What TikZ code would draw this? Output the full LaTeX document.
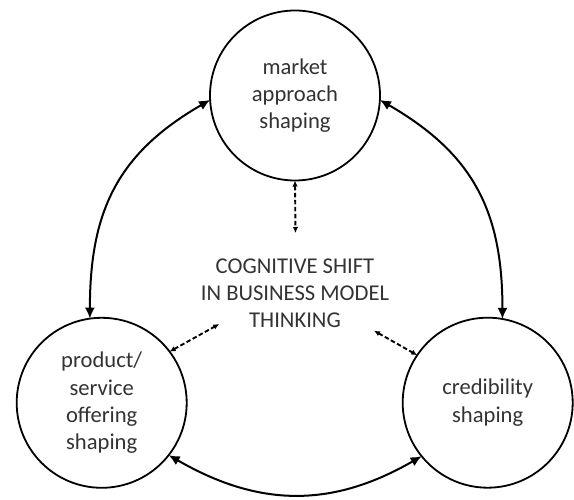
\documentclass[tikz,border=0pt]{standalone}
\usepackage{fontspec}
\setmainfont{Carlito}
\usetikzlibrary{arrows.meta}
\definecolor{txt}{HTML}{333333}
\tikzset{
  bubble/.style={circle, draw=black, line width=1.8pt, minimum size=170pt, inner sep=0pt, outer sep=0pt,
    align=center, text=txt, font={\fontsize{22.6}{27.3}\selectfont}},
  centertext/.style={align=center, text=txt, font={\fontsize{22.6}{27.3}\selectfont}},
  solidarr/.style={line width=2pt, {Latex[length=11pt,width=10pt]}-{Latex[length=11pt,width=10pt]}},
  dasharr/.style={line width=1.9pt, dash pattern=on 4.5pt off 2.5pt, {Latex[length=6pt,width=5.5pt]}-{Latex[length=6pt,width=5.5pt]}}
}
\begin{document}
\begin{tikzpicture}[x=1pt,y=1pt]
\useasboundingbox (0,0) rectangle (574,499);
\node[bubble] (t) at (295,403.5) {market\\approach\\shaping};
\node[bubble] (l) at (101.7,96.2) {product/\\service\\offering\\shaping};
\node[bubble] (r) at (487.7,96.3) {credibility\\shaping};
\node[centertext] (c) at (295,205.7) {COGNITIVE SHIFT\\IN BUSINESS MODEL\\THINKING};
\coordinate (ct) at (295.5,266);
\coordinate (cl) at (219.3,175);
\coordinate (cr) at (374,168.3);
\draw[solidarr] (l.98) to[out=90,in=210,looseness=1.1] (t.183);
\draw[solidarr] (r.80) to[out=90,in=330,looseness=1.1] (t.357);
\draw[solidarr] (l.322) to[out=-30,in=210,looseness=1.05] (r.219);
\draw[dasharr] (t.270) -- (ct);
\draw[dasharr] (l.37) -- (cl);
\draw[dasharr] (cr) -- (r.146);
\end{tikzpicture}
\end{document}
